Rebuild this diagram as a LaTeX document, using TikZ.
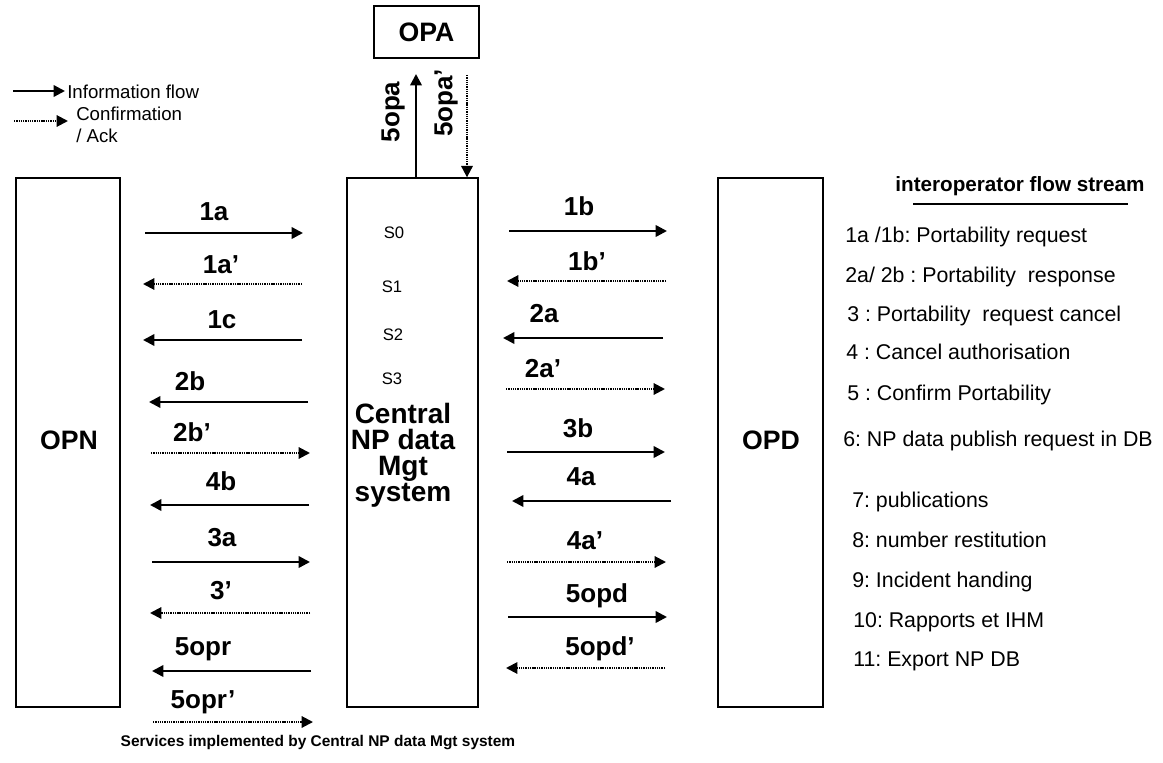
\documentclass[tikz,border=0pt]{standalone}
\usepackage{fontspec}
\setmainfont{Liberation Sans}
\usetikzlibrary{arrows.meta,fit}
\frenchspacing
\tikzset{
  box/.style={draw,line width=1pt,inner sep=0pt},
  flow/.style={-{Triangle[length=8.5pt,width=8.5pt]},line width=1.8pt},
  ack/.style={-{Triangle[length=8.5pt,width=8.5pt]},line width=1.5pt,dash pattern=on 1pt off 0.7pt},
  lbl/.style={font=\fontsize{19.5}{21}\selectfont\bfseries,anchor=base,inner sep=0pt},
  opx/.style={font=\fontsize{20}{22}\selectfont\bfseries,inner sep=0pt},
  st/.style={font=\fontsize{12.5}{14}\selectfont,inner sep=0pt},
  item/.style={font=\fontsize{16}{18}\selectfont,anchor=base west,inner sep=0pt},
  leg/.style={font=\fontsize{14}{16.5}\selectfont,anchor=west,align=left,inner sep=0pt}
}

\begin{document}
\begin{tikzpicture}[x=0.75pt,y=-0.75pt]
\useasboundingbox (0,0) rectangle (1163,763);
% legend
\coordinate (li0) at (13,91); \coordinate (li1) at (65,91);
\draw[flow] (li0) -- (li1); \node[leg] (linfo) at (67,92) {Information flow};
\coordinate (lc0) at (14,121); \coordinate (lc1) at (68,121);
\draw[ack] (lc0) -- (lc1); \node[leg] (lconf) at (76,125) {Confirmation\\/ Ack};
% operators and central system
\node[box,fit={(374,6) (479,58)}] (opa) {}; \node[opx] at (opa.center) {OPA};
\node[box,fit={(16,178) (120,707)}] (opn) {}; \node[opx] at (69,440) {OPN};
\node[box,fit={(347,178) (478,707)}] (cent) {};
\node[box,fit={(718,178) (823,707)}] (opd) {}; \node[opx] at (771,440) {OPD};
\node[st] (s0) at (394,233) {S0}; \node[st] (s1) at (392,287) {S1};
\node[st] (s2) at (393,335) {S2}; \node[st] (s3) at (392,379) {S3};
\node[font=\fontsize{21}{19.6}\selectfont\bfseries,align=center,inner sep=0pt] (cname) at (403,455) {Central\\NP data\\Mgt\\system};
% OPA exchange
\coordinate (u1) at (416,74); \coordinate (d0) at (467,75);
\draw[flow] (cent.north -| u1) -- (u1); \node[lbl,rotate=90,anchor=center] (l5opa) at (393,112) {5opa};
\draw[ack] (d0) -- (cent.north -| d0); \node[lbl,rotate=90,anchor=center] (l5opaa) at (446,103) {5opa’};
% OPN side
\coordinate (p1a) at (145,233); \coordinate (q1a) at (303,233); \draw[flow] (p1a) -- (q1a); \node[lbl] (l1a) at (214,220) {1a};
\coordinate (p1aa) at (302,284); \coordinate (q1aa) at (143,284); \draw[ack] (p1aa) -- (q1aa); \node[lbl] (l1aa) at (221,273) {1a’};
\coordinate (p1c) at (302,340); \coordinate (q1c) at (143,340); \draw[flow] (p1c) -- (q1c); \node[lbl] (l1c) at (222,328) {1c};
\coordinate (p2b) at (308,402); \coordinate (q2b) at (149,402); \draw[flow] (p2b) -- (q2b); \node[lbl] (l2b) at (190,390) {2b};
\coordinate (p2bb) at (151,453); \coordinate (q2bb) at (310,453); \draw[ack] (p2bb) -- (q2bb); \node[lbl] (l2bb) at (192,441) {2b’};
\coordinate (p4b) at (309,505); \coordinate (q4b) at (150,505); \draw[flow] (p4b) -- (q4b); \node[lbl] (l4b) at (221,490) {4b};
\coordinate (p3a) at (152,562); \coordinate (q3a) at (310,562); \draw[flow] (p3a) -- (q3a); \node[lbl] (l3a) at (222,546) {3a};
\coordinate (p3) at (310,613); \coordinate (q3) at (150,613); \draw[ack] (p3) -- (q3); \node[lbl] (l3) at (221,599) {3’};
\coordinate (p5r) at (311,671); \coordinate (q5r) at (152,671); \draw[flow] (p5r) -- (q5r); \node[lbl] (l5r) at (203,655) {5opr};
\coordinate (p5rr) at (153,722); \coordinate (q5rr) at (313,722); \draw[ack] (p5rr) -- (q5rr); \node[lbl] (l5rr) at (203,708) {5opr’};
% OPD side
\coordinate (p1b) at (509,231); \coordinate (q1b) at (667,231); \draw[flow] (p1b) -- (q1b); \node[lbl] (l1b) at (579,215) {1b};
\coordinate (p1bb) at (666,281); \coordinate (q1bb) at (507,281); \draw[ack] (p1bb) -- (q1bb); \node[lbl] (l1bb) at (587,270) {1b’};
\coordinate (p2a) at (663,338); \coordinate (q2a) at (503,338); \draw[flow] (p2a) -- (q2a); \node[lbl] (l2a) at (544,322) {2a};
\coordinate (p2aa) at (506,389); \coordinate (q2aa) at (665,389); \draw[ack] (p2aa) -- (q2aa); \node[lbl] (l2aa) at (543,377) {2a’};
\coordinate (p3b) at (507,452); \coordinate (q3b) at (665,452); \draw[flow] (p3b) -- (q3b); \node[lbl] (l3b) at (578,437) {3b};
\coordinate (p4a) at (671,501); \coordinate (q4a) at (512,501); \draw[flow] (p4a) -- (q4a); \node[lbl] (l4a) at (581,485) {4a};
\coordinate (p4aa) at (507,562); \coordinate (q4aa) at (666,562); \draw[ack] (p4aa) -- (q4aa); \node[lbl] (l4aa) at (585,549) {4a’};
\coordinate (p5d) at (508,617); \coordinate (q5d) at (667,617); \draw[flow] (p5d) -- (q5d); \node[lbl] (l5d) at (597,602) {5opd};
\coordinate (p5dd) at (665,668); \coordinate (q5dd) at (506,668); \draw[ack] (p5dd) -- (q5dd); \node[lbl] (l5dd) at (600,655) {5opd’};
% flow stream list
\node[font=\fontsize{15.5}{18}\selectfont\bfseries,anchor=base,inner sep=0pt] (ttl) at (1020,191) {interoperator flow stream};
\draw[line width=1.5pt] (913,204) -- (1128,204);
\node[item] (i1) at (845,242) {1a /1b: Portability request};
\node[item] (i2) at (845,282) {2a/ 2b : Portability\ \ response};
\node[item] (i3) at (847,321) {3 : Portability\ \ request cancel};
\node[item] (i4) at (846,359) {4 : Cancel authorisation};
\node[item] (i5) at (847,400) {5 : Confirm Portability};
\node[item] (i6) at (843,446) {6: NP data publish request in DB};
\node[item] (i7) at (852,507) {7: publications};
\node[item] (i8) at (852,547) {8: number restitution};
\node[item] (i9) at (852,587) {9: Incident handing};
\node[item] (i10) at (853,627) {10: Rapports et IHM};
\node[item] (i11) at (853,666) {11: Export NP DB};
\node[font=\fontsize{11.6}{14}\selectfont\bfseries,inner sep=0pt] (svc) at (318,743) {Services implemented by Central NP data Mgt system};
\end{tikzpicture}
\end{document}
